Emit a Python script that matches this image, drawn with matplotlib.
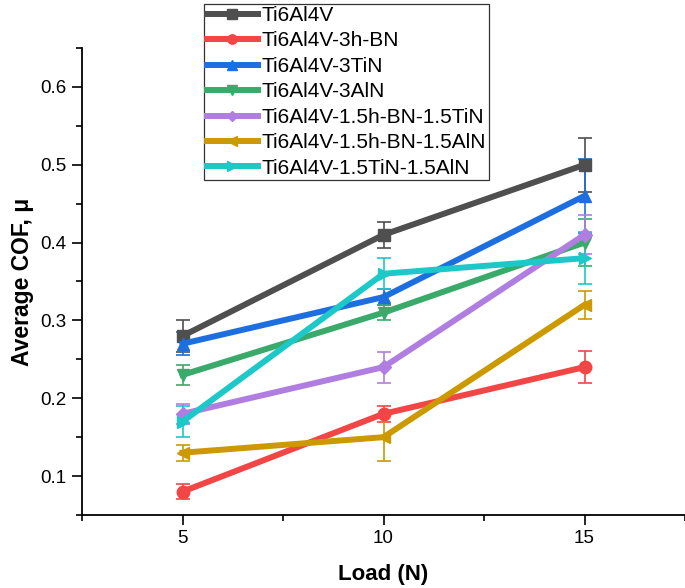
import matplotlib.pyplot as plt
from matplotlib.ticker import MultipleLocator
from matplotlib.lines import Line2D

plt.rcParams['font.family'] = ['Liberation Sans', 'DejaVu Sans']

# load values (N)
loads = [5, 10, 15]

# average COF and error for each sample
labels = ['Ti6Al4V', 'Ti6Al4V-3h-BN', 'Ti6Al4V-3TiN', 'Ti6Al4V-3AlN',
          'Ti6Al4V-1.5h-BN-1.5TiN', 'Ti6Al4V-1.5h-BN-1.5AlN', 'Ti6Al4V-1.5TiN-1.5AlN']
cof_ti64 = [0.28, 0.41, 0.50]
err_ti64 = [0.02, 0.017, 0.035]
cof_bn = [0.08, 0.18, 0.24]
err_bn = [0.01, 0.01, 0.021]
cof_tin = [0.27, 0.33, 0.46]
err_tin = [0.015, 0.01, 0.048]
cof_aln = [0.23, 0.31, 0.40]
err_aln = [0.013, 0.01, 0.03]
cof_bn_tin = [0.18, 0.24, 0.41]
err_bn_tin = [0.013, 0.02, 0.025]
cof_bn_aln = [0.13, 0.15, 0.32]
err_bn_aln = [0.01, 0.03, 0.018]
cof_tin_aln = [0.17, 0.36, 0.38]
err_tin_aln = [0.02, 0.02, 0.033]

series = [cof_ti64, cof_bn, cof_tin, cof_aln, cof_bn_tin, cof_bn_aln, cof_tin_aln]
errors = [err_ti64, err_bn, err_tin, err_aln, err_bn_tin, err_bn_aln, err_tin_aln]
colors = ['#4f4f4f', '#f24545', '#1d6fe0', '#3aaa6b', '#b07ee0', '#cc9900', '#1cc8c8']
markers = ['s', 'o', '^', 'v', 'D', '<', '>']

fig = plt.figure(figsize=(6.85, 5.88), dpi=100)
ax = fig.add_axes([82 / 685, 73 / 588, 1 - 82 / 685, (515 - 48) / 588])

handles = []
for y, e, c, m, lab in zip(series, errors, colors, markers, labels):
    ms = 7 if m == 'D' else 9
    ax.errorbar(loads, y, yerr=e, color=c, marker=m, markersize=ms,
                linewidth=4.3, elinewidth=1.2, capsize=5, capthick=1.2)
    handles.append(Line2D([], [], color=c, marker=m, markersize=ms * 0.75,
                          linewidth=4.3))

ax.set_xlim(2.5, 17.5)
ax.set_ylim(0.05, 0.65)
ax.xaxis.set_minor_locator(MultipleLocator(2.5))
ax.yaxis.set_minor_locator(MultipleLocator(0.05))
ax.set_xticks([5, 10, 15])
ax.set_yticks([0.1, 0.2, 0.3, 0.4, 0.5, 0.6])
ax.tick_params(which='major', direction='out', length=7, width=1.2, labelsize=13.5, pad=4)
ax.tick_params(which='minor', direction='out', length=4, width=1.2)
ax.spines['top'].set_visible(False)
ax.spines['right'].set_visible(False)
for s in ['left', 'bottom']:
    ax.spines[s].set_linewidth(1.3)

ax.set_xlabel('Load (N)', fontsize=16, fontweight='bold', labelpad=12)
ax.set_ylabel('Average COF, μ', fontsize=16.5, fontweight='bold', labelpad=5)

leg = fig.legend(handles=handles, labels=labels, loc='upper left',
                 bbox_to_anchor=(204 / 685, 0.994), fontsize=15, frameon=True,
                 fancybox=False, edgecolor='black', handlelength=2.45,
                 handletextpad=0.2, labelspacing=0.31, borderpad=0.12,
                 borderaxespad=0)
leg.get_frame().set_linewidth(0.9)

fig.savefig('out.png', dpi=100)
